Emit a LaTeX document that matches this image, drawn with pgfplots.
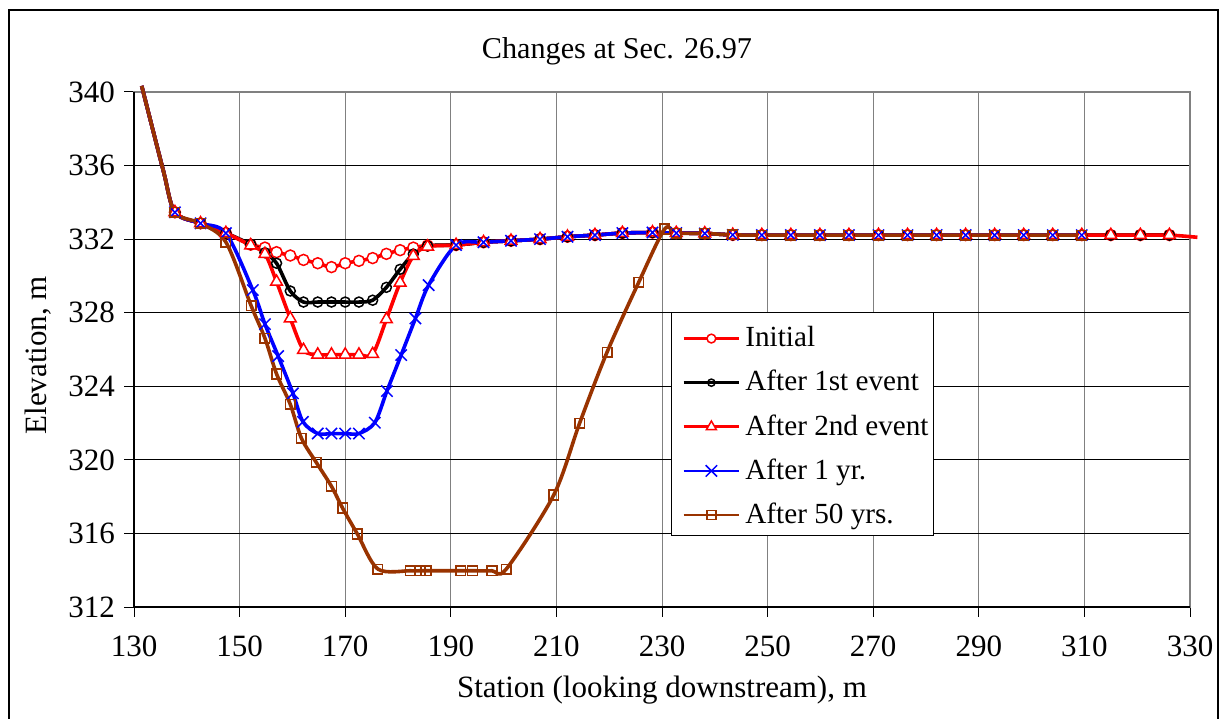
\documentclass[border=0pt]{standalone}
\usepackage{fontspec}
\setmainfont{Liberation Serif}
\usepackage{pgfplots}
\pgfplotsset{compat=1.18}
\usepackage{pgfplotstable}
\definecolor{exbrown}{HTML}{993300}

\pgfplotstableread{
x y
131.46 340.33
135.52 335.76
137.75 333.46
142.6 332.86
147.4 332.33
152.1 331.70
154.8 331.54
157.0 331.29
159.6 331.11
162.1 330.87
164.8 330.69
167.4 330.48
170.0 330.69
172.6 330.82
175.2 330.97
177.8 331.20
180.4 331.40
182.9 331.54
185.6 331.65
191.0 331.68
196.2 331.83
201.4 331.91
206.9 332.00
212.1 332.13
217.3 332.22
222.5 332.33
228.2 332.36
232.7 332.33
238.1 332.31
243.4 332.23
248.9 332.22
254.4 332.22
259.9 332.22
265.4 332.22
271.0 332.22
276.5 332.22
282.0 332.22
287.5 332.22
293.0 332.22
298.5 332.22
304.0 332.22
309.5 332.22
315.0 332.22
320.6 332.22
326.1 332.22
331.4 332.10
}\tinit

\pgfplotstableread{
x y
131.46 340.33
135.52 335.76
137.75 333.46
142.6 332.86
147.4 332.33
152.1 331.72
154.8 331.26
157.0 330.69
159.6 329.18
162.1 328.58
164.8 328.58
167.4 328.58
170.0 328.58
172.6 328.58
175.2 328.68
177.8 329.38
180.4 330.36
182.9 331.19
185.6 331.63
191.0 331.68
196.2 331.83
201.4 331.91
206.9 332.00
212.1 332.13
217.3 332.22
222.5 332.33
228.2 332.36
232.7 332.33
238.1 332.31
243.4 332.23
248.9 332.22
254.4 332.22
259.9 332.22
265.4 332.22
271.0 332.22
276.5 332.22
282.0 332.22
287.5 332.22
293.0 332.22
298.5 332.22
304.0 332.22
309.5 332.22
315.0 332.22
320.6 332.22
326.1 332.22
}\tfirst

\pgfplotstableread{
x y
131.46 340.33
135.52 335.76
137.75 333.46
142.6 332.86
147.4 332.33
152.1 331.66
154.8 331.19
157.0 329.68
159.6 327.69
162.1 325.97
164.8 325.72
167.4 325.72
170.0 325.72
172.6 325.72
175.2 325.75
177.8 327.64
180.4 329.63
182.9 331.08
185.6 331.59
191.0 331.68
196.2 331.83
201.4 331.91
206.9 332.00
212.1 332.13
217.3 332.22
222.5 332.33
228.2 332.36
232.7 332.33
238.1 332.31
243.4 332.23
248.9 332.22
254.4 332.22
259.9 332.22
265.4 332.22
271.0 332.22
276.5 332.22
282.0 332.22
287.5 332.22
293.0 332.22
298.5 332.22
304.0 332.22
309.5 332.22
315.0 332.22
320.6 332.22
326.1 332.22
}\tsecond

\pgfplotstableread{
x y
131.46 340.33
135.52 335.76
137.75 333.46
142.6 332.86
147.4 332.33
152.5 329.23
154.8 327.38
157.3 325.64
160.1 323.62
162.0 322.07
164.8 321.43
167.4 321.43
170.0 321.43
172.6 321.43
175.6 322.02
177.9 323.74
180.6 325.70
183.3 327.69
185.8 329.50
191.0 331.68
196.2 331.83
201.4 331.91
206.9 332.00
212.1 332.13
217.3 332.22
222.5 332.33
228.2 332.36
232.7 332.33
238.1 332.31
243.4 332.23
248.9 332.22
254.4 332.22
259.9 332.22
265.4 332.22
271.0 332.22
276.5 332.22
282.0 332.22
287.5 332.22
293.0 332.22
298.5 332.22
304.0 332.22
309.5 332.22
}\tyear

\pgfplotstableread{
x y
131.46 340.33
135.52 335.76
137.75 333.46
142.6 332.86
147.4 331.84
152.2 328.37
154.8 326.61
157.0 324.67
159.6 323.02
161.7 321.18
164.5 319.87
167.4 318.56
169.5 317.38
172.3 315.97
176.2 314.06
182.3 313.97
184.2 313.97
185.3 313.97
191.9 313.97
194.1 313.97
197.8 313.97
200.5 314.06
209.5 318.09
214.4 322.00
219.6 325.86
225.6 329.66
230.5 332.55
232.7 332.33
238.1 332.31
243.4 332.23
248.9 332.22
254.4 332.22
259.9 332.22
265.4 332.22
271.0 332.22
276.5 332.22
282.0 332.22
287.5 332.22
293.0 332.22
298.5 332.22
304.0 332.22
309.5 332.22
}\tfifty

\begin{document}
\fontsize{15.5bp}{18bp}\selectfont
\begin{tikzpicture}
\useasboundingbox (0,0) rectangle (612.5bp,359.5bp);
\fill[white] (0,0) rectangle (612.5bp,359.5bp);
\draw[black, line width=0.6bp] (4.5bp,-10bp) -- (4.5bp,354.5bp) -- (609bp,354.5bp) -- (609bp,-10bp);
\begin{axis}[
  at={(67bp,56bp)}, anchor=south west,
  scale only axis, width=528bp, height=257.5bp,
  xmin=130, xmax=330, ymin=312, ymax=340,
  xtick={130,150,...,330}, ytick={312,316,...,340},
  tick pos=left, tick align=outside, major tick length=5bp,
  tick style={black, line width=0.5bp},
  grid=major,
  x grid style={gray, line width=0.5bp},
  y grid style={black, line width=0.5bp},
  axis line style={gray, line width=0.6bp},
  clip=false,
  /pgf/number format/assume math mode=true,
  tick label style={font=\fontsize{15.5bp}{18bp}\selectfont},
  xticklabel style={anchor=north, inner sep=0pt, yshift=-9.25bp},
  yticklabel style={anchor=east, inner sep=0pt, xshift=-4.35bp},
  title={Changes at Sec. 26.97},
  title style={at={(0.4574,1.0641)}, anchor=base, inner sep=0pt, yshift=-6pt, font=\fontsize{15.1bp}{18bp}\selectfont},
  xlabel={Station (looking downstream), m},
  xlabel style={at={(0.5,-0.1748)}, anchor=base, inner sep=0pt, font=\fontsize{15.5bp}{18bp}\selectfont},
  ylabel={Elevation, m},
  ylabel style={at={(-0.0833,0.489)}, anchor=base, inner sep=0pt, font=\fontsize{15.5bp}{18bp}\selectfont},
  legend cell align=left,
  legend image code/.code={\draw[yshift=-1.5bp,mark repeat=2,mark phase=2,#1] plot coordinates {(0bp,0bp) (13.9bp,0bp) (27.8bp,0bp)}; \path (-2.85bp,0bp) (30.2bp,0bp);},
  legend style={at={(0.5085,0.5728)}, anchor=north west, draw=black, line width=0.5bp, fill=white,
    inner xsep=2.5bp, inner ysep=0.5bp, row sep=0pt,
    nodes={inner sep=0pt, text height=16.68bp, text depth=5.38bp, font=\fontsize{14.6bp}{17bp}\selectfont}},
  extra description/.code={\draw[black, line width=0.6bp] (0,1) -- (0,0) -- (1,0);},
]
% lines first
\addplot[red, line width=1.8bp, smooth, forget plot] table {\tinit};
\addplot[black, line width=1.8bp, smooth, forget plot] table {\tfirst};
\addplot[red, line width=1.8bp, smooth, forget plot] table {\tsecond};
\addplot[blue, line width=1.8bp, smooth, forget plot] table {\tyear};
\addplot[exbrown, line width=1.8bp, smooth, forget plot] table {\tfifty};
% markers on top
\addplot[only marks, restrict x to domain=137:330, mark=*, mark size=2.75bp, mark options={draw=red, fill=white, line width=0.75bp}, forget plot] table {\tinit};
\addplot[only marks, restrict x to domain=137:330, mark=o, mark size=2.5bp, mark options={draw=black, line width=0.75bp}, forget plot] table {\tfirst};
\addplot[only marks, restrict x to domain=137:330, mark=triangle*, mark size=3.4bp, mark options={draw=red, fill=white, line width=0.75bp}, forget plot] table {\tsecond};
\addplot[only marks, restrict x to domain=137:330, mark=x, mark size=4bp, mark options={draw=blue, line width=0.75bp}, forget plot] table {\tyear};
\addplot[only marks, restrict x to domain=137:330, mark=square, mark size=2.4bp, mark options={draw=exbrown, line width=0.75bp}, forget plot] table {\tfifty};
% legend
\addlegendimage{red, line width=1.4bp, mark=*, mark size=2.2bp, mark options={fill=white, line width=0.75bp}}
\addlegendentry{Initial}
\addlegendimage{black, line width=1.4bp, mark=o, mark size=1.8bp, mark options={line width=0.75bp}}
\addlegendentry{After 1st event}
\addlegendimage{red, line width=1.4bp, mark=triangle*, mark size=2.9bp, mark options={fill=white, line width=0.75bp}}
\addlegendentry{After 2nd event}
\addlegendimage{blue, line width=1.4bp, mark=x, mark size=4bp, mark options={line width=0.75bp}}
\addlegendentry{After 1 yr.}
\addlegendimage{exbrown, line width=1.4bp, mark=square, mark size=2.3bp, mark options={line width=0.75bp}}
\addlegendentry{After 50 yrs.}
\end{axis}
\end{tikzpicture}
\end{document}
